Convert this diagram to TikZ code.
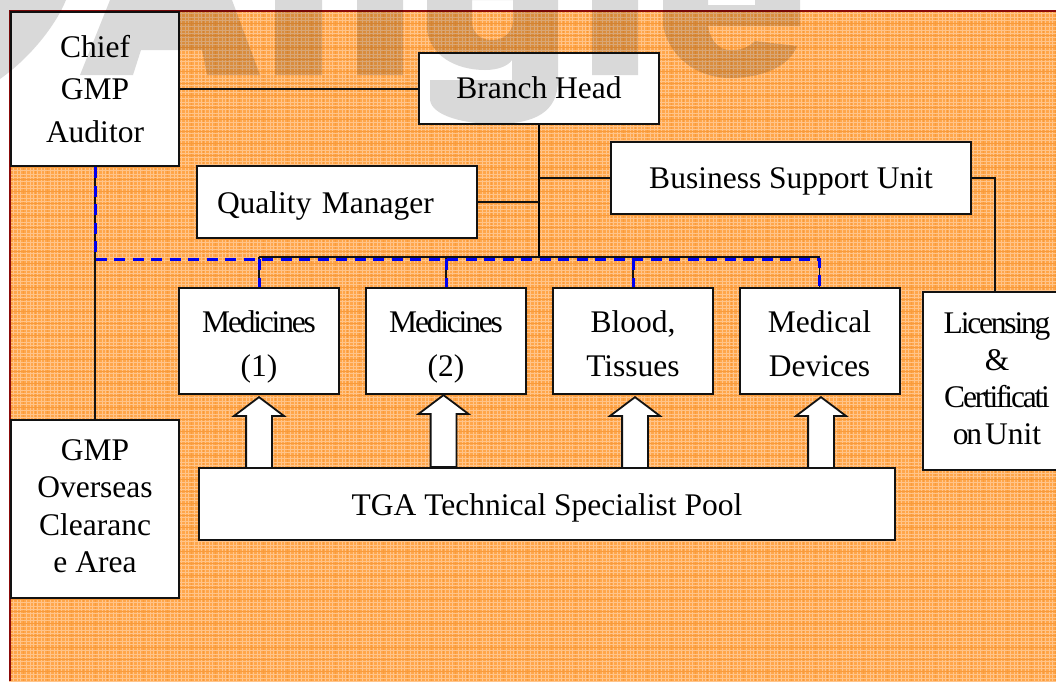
\documentclass[tikz,border=0pt]{standalone}
\usepackage{fontspec}
\setmainfont{Liberation Serif}
\usetikzlibrary{shapes.arrows}
\definecolor{bgbase}{HTML}{FFA64A}
\definecolor{bglight}{HTML}{FFC48A}
\definecolor{bgdark}{HTML}{F89B3C}
\definecolor{edgered}{HTML}{8B0A0A}
\definecolor{dashblue}{HTML}{0000F0}
\newcommand{\tightset}{\addfontfeature{LetterSpace=-7}}
\newcommand{\topstrut}[1]{\rule{0pt}{#1pt}}
\newcommand{\botstrut}{\rule[-10pt]{0pt}{10pt}}
\tikzset{
  lead/.style={font=\fontsize{31.5}{#1}\selectfont},
  box/.style={draw=black!93,fill=white,line width=2pt,rectangle,inner sep=0pt,align=center,lead=42.5},
  link/.style={draw=black!93,line width=1.8pt},
  trunk/.style={draw=black,line width=2.6pt},
  bluedash/.style={draw=dashblue,line width=3pt,dash pattern=on 11pt off 7.5pt},
  blockarrow/.style={single arrow,draw=black!93,fill=white,line width=1.8pt,shape border rotate=90,
    anchor=tip,minimum height=72pt,minimum width=48pt,inner sep=12pt,
    single arrow head extend=12pt,single arrow tip angle=106},
  ghost/.style={fill=black,fill opacity=.15,even odd rule}
}
\begin{document}
\begin{tikzpicture}[x=1pt,y=-1pt]
\useasboundingbox (0,0) rectangle (1056,681);
% page background with its fine plaid
\fill[white] (0,0) rectangle (1056,681);
\fill[bgbase] (9,10) rectangle (1056,681);
\begin{scope}
\clip (9,10) rectangle (1056,681);
\foreach \t in {0,24,...,1056}{
  \foreach \o in {2,6,9,13,17,20}{
    \draw[bglight,line width=.9pt] ({\t+\o},10) -- ({\t+\o},681);
  }
  \draw[bgdark,line width=.9pt] ({\t+11},10) -- ({\t+11},681);
  \draw[bgdark,line width=.9pt] ({\t+23},10) -- ({\t+23},681);
}
\foreach \t in {0,24,...,672}{
  \foreach \o in {2,6,9,13,17,20}{
    \draw[bglight,line width=.9pt] (9,{\t+\o}) -- (1056,{\t+\o});
  }
  \draw[bgdark,line width=.9pt] (9,{\t+11}) -- (1056,{\t+11});
  \draw[bgdark,line width=.9pt] (9,{\t+23}) -- (1056,{\t+23});
}
\end{scope}
\draw[edgered,line width=2pt] (9.5,681) -- (9.5,10.5) -- (1056,10.5);

% named anchors
\coordinate (hub) at (539,257);
\coordinate (bluehub) at (95,259);
\coordinate (licTop) at (995,292);

% boxes
\node[box,minimum width=168pt,minimum height=154pt] (chief) at (95,89) {\topstrut{31}Chief\\GMP\\Auditor\botstrut};
\node[box,minimum width=240pt,minimum height=71pt] (branch) at (539,88.5) {\topstrut{29}Branch Head\botstrut};
\node[box,minimum width=280pt,minimum height=72pt,text width=240pt,align=left] (quality) at (337,202) {\topstrut{32}Quality Manager\botstrut};
\node[box,minimum width=360pt,minimum height=72pt] (business) at (791,178) {\topstrut{30}Business Support Unit\botstrut};
\node[box,lead=44,minimum width=160pt,minimum height=106pt] (med1) at (259,341) {\topstrut{36}{\tightset Medicines}\\(1)\botstrut};
\node[box,lead=44,minimum width=160pt,minimum height=106pt] (med2) at (446,341) {\topstrut{36}{\tightset Medicines}\\(2)\botstrut};
\node[box,lead=44,minimum width=160pt,minimum height=106pt] (blood) at (633,341) {\topstrut{36}Blood,\\Tissues\botstrut};
\node[box,lead=44,minimum width=160pt,minimum height=106pt] (devices) at (819.5,341) {\topstrut{36}Medical\\Devices\botstrut};
\node[box,lead=37.5,minimum width=168pt,minimum height=178pt] (gmp) at (95,509) {\topstrut{24.5}GMP\\Overseas\\Clearanc\\e Area\botstrut};
\node[box,minimum width=136pt,minimum height=178pt] (lic) at (991,381) {};
\node[lead=37,align=center,inner sep=0pt] (lictext) at (997,381)
  {\topstrut{25}{\tightset Licensing}\\\&\\{\tightset Certificati}\\{\tightset on}\hspace{3pt}Unit\botstrut};

% block arrows, under the pool box
\node[blockarrow] (up1) at (259,396) {};
\node[blockarrow] (up2) at (443.5,394) {};
\node[blockarrow] (up3) at (635,396) {};
\node[blockarrow] (up4) at (821,396) {};
\node[box,minimum width=696pt,minimum height=72pt] (tga) at (547,504) {\topstrut{32}TGA Technical Specialist Pool\botstrut};

% solid connectors
\draw[link] (chief.east) -- (chief.east -| branch.west);
\draw[trunk] (branch.south) -- (branch.south |- hub);
\draw[link] (quality.east) -- (quality.east -| branch.south);
\draw[link] (business.west) -- (business.west -| branch.south);
\draw[link] (business.east) -| (licTop);
\draw[link] (chief.south) -- (gmp.north);
\draw[link] (med1.north |- hub) -- (devices.north |- hub);
\draw[link] (med1.north |- hub) -- (med1.north);
\draw[link] (med2.north |- hub) -- (med2.north);
\draw[link] (blood.north |- hub) -- (blood.north);
\draw[link] (devices.north |- hub) -- (devices.north);

% dashed reporting lines
\draw[bluedash] (chief.south) -- (bluehub) -- (bluehub -| devices.north) -- (devices.north);
\draw[bluedash] (bluehub -| med1.north) -- (med1.north);
\draw[bluedash] (bluehub -| med2.north) -- (med2.north);
\draw[bluedash] (bluehub -| blood.north) -- (blood.north);

% faint watermark shapes, cut by the top of the page
\path[ghost]
  (0,0) -- (66,0) .. controls (56,25) and (30,58) .. (0,79) -- cycle
  (110,0) -- (80,75) -- (133,75) -- (141,50) -- (202,50) -- (207,75) -- (260,75) -- (232,0) -- cycle
  (275,0) -- (275,75) -- (322,75) -- (322,0) -- cycle
  (357,0) -- (357,75) -- (403,75) -- (403,0) -- cycle
  (427,0) -- (427,30) .. controls (430,55) and (455,70) .. (485,70)
     .. controls (498,70) and (508,66) .. (512,60) -- (512,80) -- (430,80) -- (430,100)
     .. controls (432,116) and (465,124) .. (495,124)
     .. controls (535,124) and (558,112) .. (558,80) -- (558,0) -- cycle
  (472,0) -- (472,24) .. controls (474,35) and (482,40) .. (492,40)
     .. controls (503,40) and (512,33) .. (513,22) -- (513,0) -- cycle
  (592,0) -- (592,75) -- (638,75) -- (638,0) -- cycle
  (663,0) -- (663,25) .. controls (668,55) and (695,78) .. (730,78)
     .. controls (765,78) and (790,65) .. (797,46) -- (755,41)
     .. controls (748,48) and (738,51) .. (728,50)
     .. controls (716,48) and (710,38) .. (708,26) -- (800,26) -- (800,0) -- (755,0) -- (755,5) -- (708,5) -- (708,0) -- cycle;
\end{tikzpicture}
\end{document}
